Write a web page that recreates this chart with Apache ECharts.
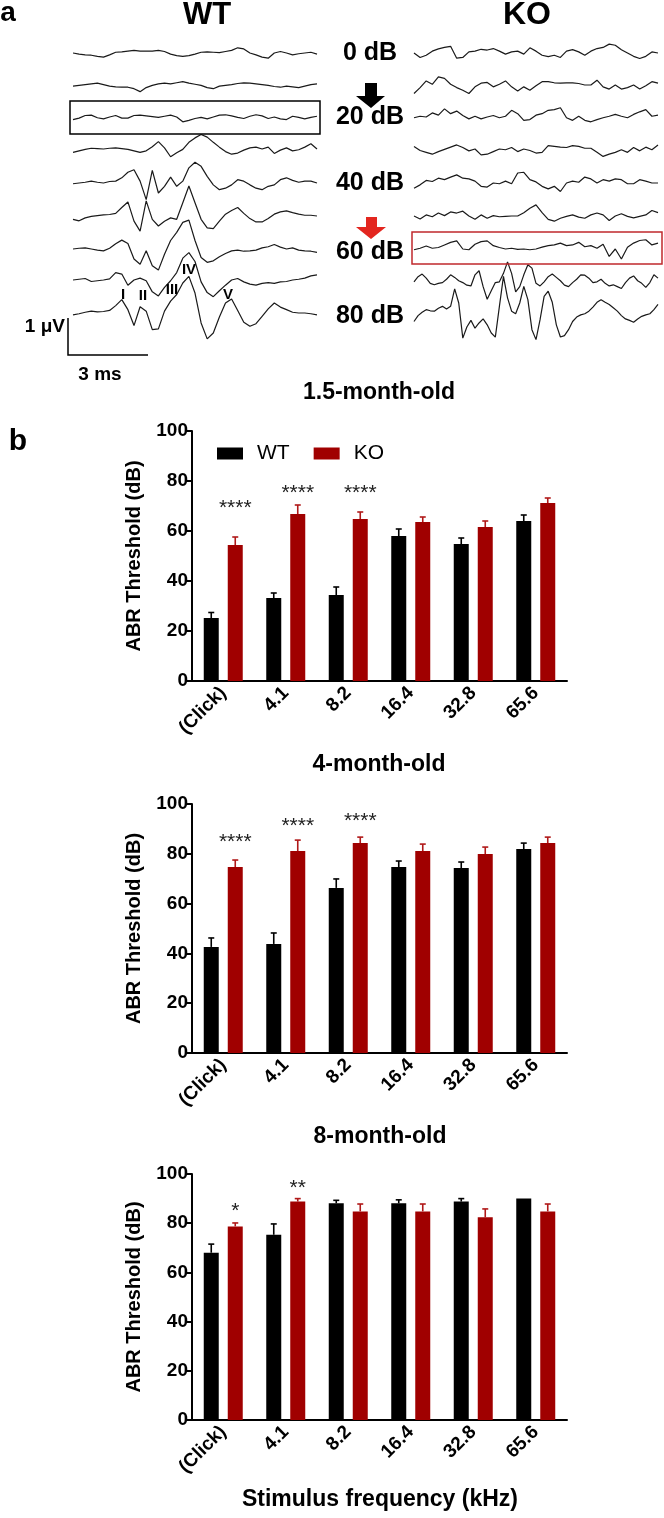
<!DOCTYPE html>
<html>
<head>
<meta charset="utf-8">
<title>ABR</title>
<script src="https://cdn.jsdelivr.net/npm/echarts@6/dist/echarts.min.js"></script>
<style>
  html, body { margin: 0; padding: 0; background: #fff; }
  #main { width: 664px; height: 1518px; }
</style>
</head>
<body>
<div id="main"></div>
<script>
// ---------- panel a: ABR traces (µV, evenly sampled over the recording window) ----------
const wt0 = [0,-0.03,-0.05,-0.06,-0.09,-0.11,-0.05,0.02,0.03,0.05,0.07,0.05,0.05,0.05,0.07,0.04,-0.03,-0.07,-0.09,-0.07,-0.03,0.02,0.03,0.02,0.01,0.04,0.07,0.14,0.11,0,-0.05,-0.11,-0.14,0,0.04,0,-0.05,-0.02,0,0.02,-0.03];
const wt10 = [-0.03,-0.01,0.01,0.03,0.05,0.01,-0.03,-0.05,-0.06,-0.06,-0.10,-0.18,-0.07,-0.01,0.03,0.05,0.03,0.06,0.09,0.05,0.02,-0.01,-0.07,-0.10,-0.03,-0.01,0.01,0.04,0.06,0.05,0.03,0.01,-0.01,-0.04,-0.06,-0.03,-0.05,-0.07,-0.03,0.01,0.03];
const wt20 = [-0.07,-0.03,0.04,0.05,-0.02,-0.05,0,0.04,-0.03,-0.03,0.04,0.05,0.03,0.01,-0.01,0.02,0.05,0,-0.13,-0.09,-0.04,-0.01,-0.05,0,0.05,0.06,0.03,-0.01,-0.04,0.02,0.06,0.03,-0.04,0,-0.05,-0.07,0.02,-0.01,-0.05,-0.01,0.02];
const wt30 = [-0.09,-0.05,-0.01,0.02,0.01,0,0.02,0.03,0.01,-0.01,-0.05,-0.09,-0.05,0.06,0.20,0.03,-0.21,-0.10,-0.01,0.18,0.30,0.39,0.32,0.18,0.05,-0.07,-0.14,-0.11,-0.03,0.03,0.05,0,0.05,-0.12,-0.03,0.03,-0.05,-0.02,0.05,0.14,0];
const wt40 = [-0.02,0,0.02,0.05,0.02,0,0.04,0.05,0.14,0.29,0.36,0.05,-0.45,0.34,-0.27,-0.09,0.16,-0.09,0.05,0.41,0.56,0.45,0.18,-0.05,-0.18,-0.14,-0.05,0.09,0.05,-0.05,-0.14,-0.18,-0.09,-0.05,0.09,0.14,0.07,0.02,0.05,0.05,0];
const wt50 = [-0.09,-0.13,-0.05,-0.01,0.01,0.03,0.04,0.07,0.23,0.38,-0.14,-0.41,0.41,-0.09,-0.27,-0.14,-0.05,-0.09,0.36,0.81,0.36,-0.09,-0.32,-0.34,-0.14,0.05,0.15,0.23,0.07,-0.07,-0.16,-0.16,-0.07,0.05,0.11,0.14,0.09,0.05,0.02,0.02,0];
const wt60 = [0,0.02,0.03,0,-0.03,-0.05,0.02,0.14,0.24,0.15,-0.27,-0.41,-0.05,-0.45,-0.57,-0.14,0.23,0.45,0.72,0.78,0.23,-0.23,-0.36,-0.32,-0.21,-0.12,-0.05,-0.03,-0.06,-0.05,-0.03,0.03,0.06,0.12,0.05,0,0.03,-0.03,-0.05,-0.06,-0.09];
const wt70 = [0,0.02,0.04,-0.04,-0.02,0,0.03,0.20,0.16,-0.14,0,0.05,-0.02,-0.32,-0.43,-0.20,-0.02,0.20,0.59,0.74,0.50,-0.05,-0.34,-0.45,-0.29,-0.14,0,0.04,-0.05,-0.11,-0.14,-0.09,-0.07,-0.09,-0.05,-0.04,0,0.02,0.05,0.11,0.14];
const wt80 = [-0.05,-0.02,0.02,0.05,0.03,0.04,0.07,0.20,0.36,0.09,-0.34,0.17,0.05,-0.45,-0.43,0.05,0.32,0.50,0.81,0.99,0.54,-0.27,-0.70,-0.54,-0.11,0.27,0.38,0.07,-0.25,-0.36,-0.29,-0.09,0.11,0.27,0.16,0.09,0.02,0,0,-0.02,-0.05];

const ko0 = [0,-0.12,-0.06,0.05,0.11,0.15,0.18,-0.14,-0.12,0.03,0.05,0.10,0.08,0.12,0.05,-0.03,0.03,0.05,-0.03,0.14,0.05,-0.06,-0.10,-0.06,-0.12,0.05,0.09,0.03,-0.06,0.05,0.12,0.15,0.24,0.21,0.09,0,-0.09,-0.15,-0.09,0.03,0];
const ko10 = [-0.23,-0.07,0.11,0.02,0.22,0.18,0.02,-0.07,-0.14,-0.23,-0.05,0.05,0.07,-0.05,0.02,0.11,-0.05,-0.16,-0.05,-0.14,-0.02,0.09,0.09,0.06,0.05,0.06,0.06,0.04,0,0,0.13,-0.05,-0.11,0,-0.11,-0.07,0,-0.11,-0.02,0.09,0.05];
const ko20 = [-0.02,0.02,0,0.11,0.05,0.22,0.09,0.16,0.04,-0.05,0.02,-0.05,0,0.04,-0.02,0.02,0.18,0.09,-0.09,-0.07,0.05,0.09,0.18,0.20,0.25,-0.02,-0.09,0.02,-0.09,-0.13,-0.07,-0.02,0.02,0.07,0.02,-0.02,0.07,0.14,0.20,0.02,0.05];
const ko30 = [0.07,-0.04,-0.09,-0.14,-0.07,-0.01,0.05,0.11,0.04,-0.05,0,-0.16,-0.14,-0.07,0,-0.02,0.04,-0.07,0,-0.04,-0.11,-0.09,0.09,0.07,0.05,0.04,0.09,0.07,0.02,0.02,-0.09,-0.20,-0.14,-0.09,-0.02,-0.09,0.04,-0.05,0.05,-0.02,0.11];
const ko40 = [-0.14,-0.05,0.07,0.04,0.13,0.09,0.16,0.22,0.13,0.11,0.05,-0.09,-0.11,0,-0.02,0.05,-0.02,0.27,0.29,0.09,0.03,-0.09,-0.16,-0.09,-0.23,0,0.05,0.02,0.16,0.11,0,0.09,0.05,0.11,0.09,-0.02,-0.02,0.09,0.05,0,0];
const ko50 = [0,-0.08,0.03,-0.02,0.08,0.01,0.11,0.08,0.13,0,-0.09,0.03,-0.06,0.01,-0.02,-0.01,0,0,0.09,0.21,0.30,0.09,-0.09,-0.14,-0.06,-0.01,0.03,-0.03,-0.06,0.03,0.08,0.03,-0.12,0,0.06,-0.01,-0.05,-0.01,0.03,0.15,0.09];
const ko60 = [-0.02,0.02,0.08,0.02,0.04,0.11,0.18,0.22,0,-0.02,0.13,0.20,0.22,0.09,0.04,0,0.02,-0.01,0,-0.02,0,0.05,0.09,0.11,0.16,0.09,0.11,0.18,0.06,0.09,0.02,0.13,-0.20,0,-0.27,0.05,0.16,0.23,0.25,0.11,0.16];
const ko70 = [-0.05,0.09,0.16,0.05,-0.09,-0.13,-0.09,-0.07,0.02,0.14,0.07,-0.02,-0.07,-0.14,-0.16,0.14,0.25,-0.18,-0.52,-0.29,-0.07,-0.05,0.18,0.49,0.18,-0.32,-0.18,0.14,0.41,0.32,-0.09,-0.16,-0.05,0.09,0.16,0.07,-0.02,-0.14,-0.18,-0.07,0.02,0.14,0.13,0.05,-0.07,-0.05,0.02,-0.09,-0.16,-0.13,-0.18,-0.23,-0.07,0.05,0.11,-0.02,-0.09,-0.20,-0.07,0.14,0.05];
const ko80 = [-0.23,-0.07,0.02,0.09,0.06,0.05,0.13,0.18,0.11,0.18,0.65,0.27,-0.68,-0.38,-0.20,-0.41,-0.27,-0.16,-0.32,-0.54,-0.65,0.18,0.99,0.41,0.05,-0.02,0.27,0.72,0.36,-0.45,-0.72,-0.18,0.45,0.59,0.29,-0.32,-0.65,-0.61,-0.45,-0.23,-0.11,-0.05,-0.02,0.05,0.16,0.29,0.36,0.29,0.23,0.14,0.05,-0.07,-0.16,-0.20,-0.25,-0.16,-0.09,-0.05,-0.02,0.09,0.23];

const wtTraces = [wt0, wt10, wt20, wt30, wt40, wt50, wt60, wt70, wt80];
const koTraces = [ko0, ko10, ko20, ko30, ko40, ko50, ko60, ko70, ko80];
const levelLabels = ['0 dB', '20 dB', '40 dB', '60 dB', '80 dB'];
const waveLabels = ['I', 'II', 'III', 'IV', 'V'];
const traceWindowMs = 9.15;

// ---------- panel b: thresholds (dB), mean and SEM ----------
const freqs = ['(Click)', '4.1', '8.2', '16.4', '32.8', '65.6'];
const ages = ['1.5-month-old', '4-month-old', '8-month-old'];

const wtMean15 = [25.2, 33.2, 34.4, 58, 54.8, 64];
const wtSem15  = [2.2, 2.0, 3.2, 2.8, 2.4, 2.4];
const koMean15 = [54.4, 66.8, 64.8, 63.6, 61.6, 71.2];
const koSem15  = [3.2, 3.6, 2.8, 2.0, 2.4, 2.0];
const stars15  = ['****', '****', '****', '', '', ''];
const starLvl15 = [71, 77, 77, 0, 0, 0];

const wtMean4 = [42.6, 43.8, 66.3, 74.7, 74.3, 81.9];
const wtSem4  = [3.6, 4.4, 3.6, 2.4, 2.4, 2.4];
const koMean4 = [74.7, 81.1, 84.3, 81.1, 79.9, 84.3];
const koSem4  = [2.8, 4.4, 2.4, 2.8, 2.8, 2.4];
const stars4  = ['****', '****', '****', '', '', ''];
const starLvl4 = [86.7, 93, 95, 0, 0, 0];

const wtMean8 = [68, 75.3, 88.1, 88.1, 88.8, 90];
const wtSem8  = [3.5, 4.4, 1.2, 1.4, 1.2, 0];
const koMean8 = [78.7, 88.8, 84.8, 84.8, 82.4, 84.8];
const koSem8  = [1.4, 1.2, 3.0, 3.0, 3.4, 3.0];
const stars8  = ['*', '**', '', '', '', ''];
const starLvl8 = [87, 96.3, 0, 0, 0, 0];

// ---------- layout ----------
const FONT = '"Liberation Sans", Arial, sans-serif';
const RED = '#a00000';
const TRACE_Y = [53, 85, 117, 149, 183, 216, 249, 280, 313];
const TRACE_H = 120;
const PX_PER_UV = 37;
const BAR_W = 15;
const BAR_GAP = 0.6;
const BAR_OFF = BAR_W * (1 + BAR_GAP) / 2;
const PLOTS = [
  { top: 431, bottom: 681, wt: wtMean15, wtSem: wtSem15, ko: koMean15, koSem: koSem15, stars: stars15, lvl: starLvl15 },
  { top: 804, bottom: 1053, wt: wtMean4, wtSem: wtSem4, ko: koMean4, koSem: koSem4, stars: stars4, lvl: starLvl4 },
  { top: 1174, bottom: 1420, wt: wtMean8, wtSem: wtSem8, ko: koMean8, koSem: koSem8, stars: stars8, lvl: starLvl8 }
];

const grid = [], xAxis = [], yAxis = [], series = [];

// traces, one small grid per recording
[{ traces: wtTraces, left: 73 }, { traces: koTraces, left: 414 }].forEach(panel => {
  panel.traces.forEach((tr, r) => {
    const gi = grid.length;
    const half = TRACE_H / 2 / PX_PER_UV;
    grid.push({ left: panel.left, width: 244, top: TRACE_Y[r] - TRACE_H / 2, height: TRACE_H, outerBoundsMode: 'none' });
    xAxis.push({ gridIndex: gi, type: 'value', min: 0, max: traceWindowMs, show: false });
    yAxis.push({ gridIndex: gi, type: 'value', min: -half, max: half, show: false });
    series.push({
      type: 'line', xAxisIndex: gi, yAxisIndex: gi,
      data: tr.map((v, i) => [i * traceWindowMs / (tr.length - 1), v]),
      symbol: 'none', clip: false, silent: true,
      lineStyle: { color: '#1a1a1a', width: 1.2 }
    });
  });
});

function errorBars(gi, means, sems, color, side) {
  return {
    type: 'custom', xAxisIndex: gi, yAxisIndex: gi, silent: true, z: 4, clip: false,
    data: means.map((m, i) => [i, m, sems[i]]),
    renderItem(params, api) {
      const sem = api.value(2);
      if (!sem) return null;
      const base = api.coord([api.value(0), api.value(1)]);
      const top = api.coord([api.value(0), api.value(1) + sem]);
      const x = base[0] + side * BAR_OFF;
      const st = { stroke: color, lineWidth: 1.6 };
      return {
        type: 'group', children: [
          { type: 'line', shape: { x1: x, y1: base[1], x2: x, y2: top[1] }, style: st },
          { type: 'line', shape: { x1: x - 3, y1: top[1], x2: x + 3, y2: top[1] }, style: st }
        ]
      };
    }
  };
}

function starMarks(gi, labels, lvls) {
  return {
    type: 'custom', xAxisIndex: gi, yAxisIndex: gi, silent: true, z: 5, clip: false,
    data: lvls.map((l, i) => [i, l]),
    renderItem(params, api) {
      const txt = labels[params.dataIndex];
      if (!txt) return null;
      const p = api.coord([api.value(0), api.value(1)]);
      return {
        type: 'text',
        style: { x: p[0] + BAR_OFF, y: p[1] + 5, text: txt, fill: '#222', fontSize: 21, fontFamily: FONT, align: 'center', verticalAlign: 'middle' }
      };
    }
  };
}

PLOTS.forEach((pl, k) => {
  const gi = grid.length;
  grid.push({ left: 192, width: 375, top: pl.top, height: pl.bottom - pl.top, outerBoundsMode: 'none' });
  xAxis.push({
    gridIndex: gi, type: 'category', data: freqs,
    axisLine: { lineStyle: { color: '#000', width: 2 } },
    axisTick: { alignWithLabel: true, length: 6, lineStyle: { color: '#000', width: 2 } },
    axisLabel: { rotate: 45, margin: 9, color: '#000', fontWeight: 'bold', fontSize: 19, fontFamily: FONT }
  });
  yAxis.push({
    gridIndex: gi, type: 'value', min: 0, max: 100, interval: 20,
    name: 'ABR Threshold (dB)', nameLocation: 'middle', nameGap: 48,
    nameTextStyle: { color: '#000', fontWeight: 'bold', fontSize: 20, fontFamily: FONT },
    axisLine: { show: true, lineStyle: { color: '#000', width: 2 } },
    axisTick: { show: true, length: 6, lineStyle: { color: '#000', width: 2 } },
    splitLine: { show: false },
    axisLabel: { margin: 4, color: '#000', fontWeight: 'bold', fontSize: 19, fontFamily: FONT }
  });
  series.push({ name: 'WT', type: 'bar', xAxisIndex: gi, yAxisIndex: gi, data: pl.wt, barWidth: BAR_W, barGap: (BAR_GAP * 100) + '%', itemStyle: { color: '#000' }, silent: true });
  series.push({ name: 'KO', type: 'bar', xAxisIndex: gi, yAxisIndex: gi, data: pl.ko, barWidth: BAR_W, barGap: (BAR_GAP * 100) + '%', itemStyle: { color: RED }, silent: true });
  series.push(errorBars(gi, pl.wt, pl.wtSem, '#000', -1));
  series.push(errorBars(gi, pl.ko, pl.koSem, '#b01818', 1));
  series.push(starMarks(gi, pl.stars, pl.lvl));
});

function txt(x, y, text, size, weight, align, color) {
  return {
    type: 'text', x: x, y: y, z: 10, silent: true,
    style: { text: text, fontSize: size, fontWeight: weight || 'bold', fontFamily: FONT, fill: color || '#000', align: align || 'center', verticalAlign: 'middle' }
  };
}

const levelY = [53, 117, 183, 252, 316];
const waveXY = [[123, 295], [143, 296], [172, 290], [189, 270], [228, 295]];

const graphic = [
  txt(8, 13, 'a', 28, 'bold', 'center'),
  txt(18, 442, 'b', 30, 'bold', 'center'),
  txt(207, 15, 'WT', 31),
  txt(527, 15, 'KO', 32),
  { type: 'rect', z: 9, silent: true, shape: { x: 70, y: 101, width: 250, height: 33 }, style: { fill: 'none', stroke: '#000', lineWidth: 1.5 } },
  { type: 'rect', z: 9, silent: true, shape: { x: 412, y: 232, width: 250, height: 32 }, style: { fill: 'none', stroke: '#c0282d', lineWidth: 1.5 } },
  { type: 'polygon', z: 9, silent: true, shape: { points: [[365, 83], [377, 83], [377, 96], [385, 96], [371, 108], [356, 96], [365, 96]] }, style: { fill: '#000' } },
  { type: 'polygon', z: 9, silent: true, shape: { points: [[366, 217], [377, 217], [377, 227], [386, 227], [371, 239], [356, 227], [366, 227]] }, style: { fill: '#e3261f' } },
  { type: 'polyline', z: 9, silent: true, shape: { points: [[68, 318], [68, 355], [148, 355]] }, style: { stroke: '#000', lineWidth: 1.5, fill: 'none' } },
  txt(65, 327, '1 μV', 19, 'bold', 'right'),
  txt(100, 375, '3 ms', 19),
  txt(379, 393, ages[0], 23),
  txt(379, 765, ages[1], 23),
  txt(380, 1137, ages[2], 23),
  txt(380, 1500, 'Stimulus frequency (kHz)', 23)
];
levelLabels.forEach((l, i) => graphic.push(txt(370, levelY[i], l, 25)));
waveLabels.forEach((l, i) => graphic.push(txt(waveXY[i][0], waveXY[i][1], l, 15)));

const chart = echarts.init(document.getElementById('main'));
chart.setOption({
  animation: false,
  backgroundColor: '#fff',
  legend: {
    data: ['WT', 'KO'], left: 212, top: 438, icon: 'rect',
    itemWidth: 26, itemHeight: 12, itemGap: 24,
    textStyle: { color: '#000', fontSize: 21, fontFamily: FONT, padding: [0, 0, 0, 9] }
  },
  grid: grid,
  xAxis: xAxis,
  yAxis: yAxis,
  series: series,
  graphic: graphic
});
</script>
</body>
</html>
